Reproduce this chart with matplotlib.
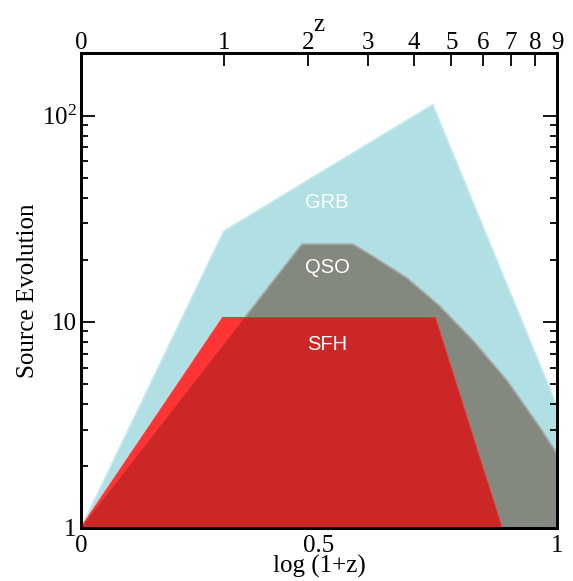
import numpy as np
import matplotlib
matplotlib.use("Agg")
import matplotlib.pyplot as plt
from matplotlib.ticker import FixedLocator, FixedFormatter, MultipleLocator, NullLocator

# ---- data (x = log10(1+z), y = source evolution factor) ----
grb_x = [0.0, 0.300, 0.739, 1.0]
grb_y = [1.0, 27.5, 113.0, 3.9]

qso_x = [0.0, 0.464, 0.571, 0.613, 0.685, 0.754, 0.824, 0.895, 0.964, 1.0]
qso_y = [1.0, 23.8, 23.8, 20.8, 16.3, 11.9, 8.09, 5.19, 3.08, 2.30]

sfh_x = [0.0, 0.298, 0.744, 0.884]
sfh_y = [1.0, 10.45, 10.45, 1.0]

labels = ["GRB", "QSO", "SFH"]
label_x = [0.517, 0.517, 0.517]
label_y = [37.8, 18.3, 7.74]

z_ticks = [0, 1, 2, 3, 4, 5, 6, 7, 8, 9]
x_major = [0.0, 0.5, 1.0]
x_major_labels = ["0", "0.5", "1"]
y_major = [1, 10, 100]
y_major_labels = ["1", "10", r"10$^2$"]

# ---- style ----
plt.rcParams["font.family"] = ["Liberation Serif", "DejaVu Serif"]
plt.rcParams["mathtext.fontset"] = "custom"
plt.rcParams["mathtext.rm"] = "Liberation Serif"
plt.rcParams["mathtext.it"] = "Liberation Serif:italic"

fig = plt.figure(figsize=(5.73, 5.81), dpi=100)
ax = fig.add_axes([81/573, 1-528/581, (557-81)/573, (528-53)/581])

blue = "#b0dfe4"
blue_edge = "#c6eaee"
gray = "#848980"
gray_edge = "#a9a9a9"
red_bright = "#ff3434"
red_dark = "#cc2727"

def closed(xs, ys):
    xs = list(xs)
    ys = list(ys)
    if ys[-1] != 1.0:
        xs = xs + [xs[-1]]
        ys = ys + [1.0]
    return xs, ys

gx, gy = closed(grb_x, grb_y)
ax.fill(gx, gy, facecolor=blue, edgecolor=blue_edge, linewidth=1.2, zorder=1)

qx, qy = closed(qso_x, qso_y)
qpatch = ax.fill(qx, qy, facecolor=gray, edgecolor=gray_edge, linewidth=1.2, zorder=2)[0]

ax.fill(sfh_x, sfh_y, facecolor=red_bright, edgecolor=red_bright, linewidth=1.2, zorder=3)
dark = ax.fill(sfh_x, sfh_y, facecolor=red_dark, edgecolor="none", zorder=4)[0]
dark.set_clip_path(qpatch)

for t, lx, ly in zip(labels, label_x, label_y):
    ax.text(lx, ly, t, color="white", fontsize=14.5, family="Liberation Sans",
            ha="center", va="center", zorder=6)

ax.set_yscale("log")
ax.set_xlim(0, 1)
ax.set_ylim(1, 201)

ax.xaxis.set_major_locator(FixedLocator(x_major))
ax.xaxis.set_major_formatter(FixedFormatter(x_major_labels))
ax.xaxis.set_minor_locator(MultipleLocator(0.1))
ax.yaxis.set_major_locator(FixedLocator(y_major))
ax.yaxis.set_major_formatter(FixedFormatter(y_major_labels))
minors = [m * d for d in (1, 10, 100) for m in range(2, 10)]
ax.yaxis.set_minor_locator(FixedLocator(minors))
ax.yaxis.set_minor_formatter(FixedFormatter([""] * len(minors)))

ax.tick_params(axis="both", which="both", direction="in", width=1.3,
               labelsize=18, top=False, right=True, left=True, bottom=True)
ax.tick_params(axis="x", which="major", length=9.5, pad=5)
ax.tick_params(axis="x", which="minor", length=5)
ax.tick_params(axis="y", which="major", length=10, pad=3)
ax.tick_params(axis="y", which="minor", length=5)

for s in ax.spines.values():
    s.set_linewidth(2.0)

ax.set_xlabel("log (1+z)", fontsize=18, labelpad=-1.5)
ax.set_ylabel("Source Evolution", fontsize=18, labelpad=2)

ax2 = ax.twiny()
ax2.set_xlim(0, 1)
ax2.xaxis.set_major_locator(FixedLocator([np.log10(1 + z) for z in z_ticks]))
ax2.xaxis.set_major_formatter(FixedFormatter([str(z) for z in z_ticks]))
ax2.xaxis.set_minor_locator(NullLocator())
ax2.tick_params(axis="x", which="major", direction="in", length=9.5, width=1.3,
                labelsize=18, pad=-1)
ax2.set_xlabel("z", fontsize=18, labelpad=1)
for s in ax2.spines.values():
    s.set_linewidth(2.0)

fig.savefig("out.png", dpi=100)
